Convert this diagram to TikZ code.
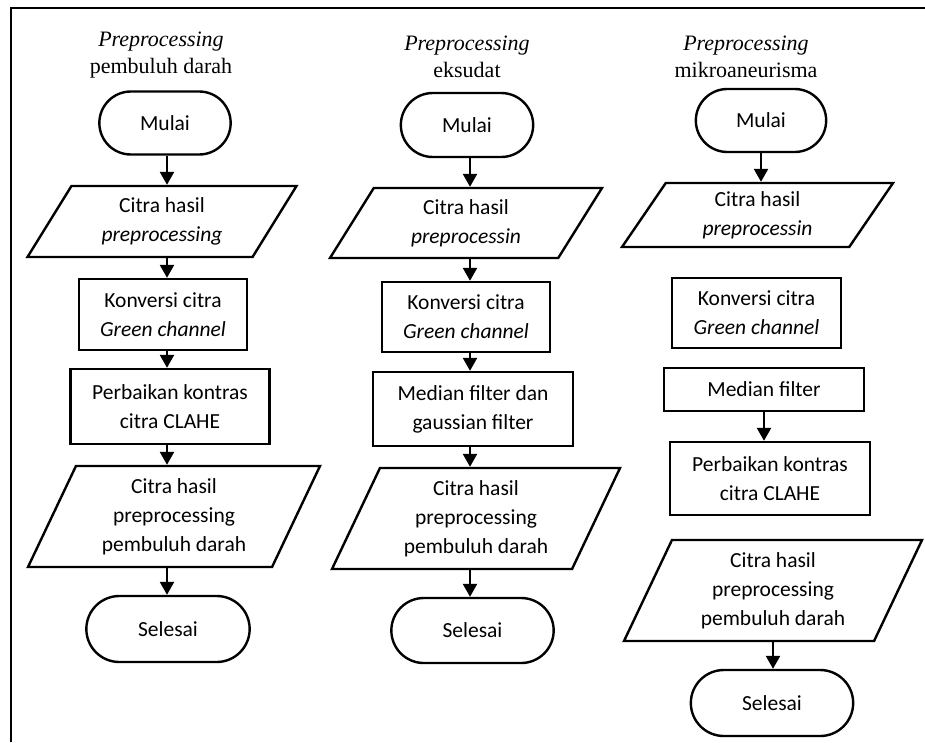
\documentclass[tikz,border=0pt]{standalone}
\usepackage{fontspec}
\setmainfont{Liberation Serif}
\newfontfamily\calibri{Carlito}
\usepackage{tikz}
\usetikzlibrary{arrows.meta}
\usetikzlibrary{positioning,shapes.geometric,shapes.misc}
\tikzset{
    terminal/.style={
        draw,
        rounded rectangle,
        line width=2.4pt,
        align=center,
        font=\calibri\fontsize{21.5}{29}\selectfont
    },
    process/.style={
        draw,
        rectangle,
        line width=2.4pt,
        align=center,
        font=\calibri\fontsize{21.5}{29}\selectfont
    },
    io/.style={
        draw,
        trapezium,
        trapezium stretches body=true,
        trapezium left angle=51,
        trapezium right angle=129,
        line width=2.4pt,
        align=center,
        inner xsep=0pt,
        font=\calibri\fontsize{21.5}{29}\selectfont
    },
    result/.style={
        io,
        trapezium left angle=60,
        trapezium right angle=120
    },
    title/.style={
        align=center,
        font=\fontsize{22}{27}\selectfont
    },
    flow/.style={
        draw,
        -{Triangle[length=13pt, width=14pt]},
        line width=2.4pt
    }
}

\begin{document}
\begin{tikzpicture}[x=1pt, y=-1pt]
    \useasboundingbox (0,0) rectangle (925,742);
    % Frame
    \draw[line width=2.4pt] (11,742) -- (11,8) -- (925,8);

    % Preprocessing pembuluh darah
    \coordinate (pd) at (167,0);
    \node[title] (pd-title) at (161,55) {\textit{Preprocessing}\\pembuluh darah};
    \node[terminal, minimum width=138pt, minimum height=63pt] (pd-start) at (165,123) {Mulai};
    \node[io, minimum width=269pt, minimum height=71pt] (pd-in) at (162,221.5) {Citra hasil\\\textit{preprocessing}};
    \node[process, minimum width=168pt, minimum height=71pt] (pd-green) at (163,314.5) {Konversi citra\\\textit{Green channel}};
    \node[process, minimum width=199pt, minimum height=75pt] (pd-clahe) at (170,406.5) {Perbaikan kontras\\citra CLAHE};
    \node[result, minimum width=292pt, minimum height=101pt] (pd-out) at (174,516.5) {Citra hasil\\preprocessing\\pembuluh darah};
    \node[terminal, minimum width=170pt, minimum height=66pt] (pd-end) at (168,629) {Selesai};

    % Preprocessing eksudat
    \coordinate (ek) at (470,0);
    \node[title] (ek-title) at (467,56.5) {\textit{Preprocessing}\\eksudat};
    \node[terminal, minimum width=139pt, minimum height=64pt] (ek-start) at (467,125) {Mulai};
    \node[io, minimum width=272pt, minimum height=70pt] (ek-in) at (466,223) {Citra hasil\\\textit{preprocessin}};
    \node[process, minimum width=168pt, minimum height=70pt] (ek-green) at (466,317) {Konversi citra\\\textit{Green channel}};
    \node[process, minimum width=200pt, minimum height=74pt] (ek-filter) at (473,409) {Median filter dan\\gaussian filter};
    \node[result, minimum width=288pt, minimum height=101pt] (ek-out) at (476,518.5) {Citra hasil\\preprocessing\\pembuluh darah};
    \node[terminal, minimum width=169pt, minimum height=65pt] (ek-end) at (472.5,630.5) {Selesai};

    % Preprocessing mikroaneurisma
    \node[title] (ma-title) at (746,56.5) {\textit{Preprocessing}\\mikroaneurisma};
    \node[terminal, minimum width=137pt, minimum height=63pt] (ma-start) at (761,120.5) {Mulai};
    \node[io, minimum width=271pt, minimum height=64pt] (ma-in) at (757.5,215) {Citra hasil\\\textit{preprocessin}};
    \node[process, minimum width=169pt, minimum height=70pt] (ma-green) at (756.5,313) {Konversi citra\\\textit{Green channel}};
    \node[process, minimum width=200pt, minimum height=43pt] (ma-median) at (764,389.5) {Median filter};
    \node[process, minimum width=200pt, minimum height=73pt] (ma-clahe) at (770,478.5) {Perbaikan kontras\\citra CLAHE};
    \node[result, minimum width=298pt, minimum height=101pt] (ma-out) at (773,590.5) {Citra hasil\\preprocessing\\pembuluh darah};
    \node[terminal, minimum width=169pt, minimum height=66pt] (ma-end) at (772,703) {Selesai};

    % Edges
    \draw[flow] (pd-start.south -| pd) -- (pd-in.north -| pd);
    \draw[flow] (pd-in.south -| pd) -- (pd-green.north -| pd);
    \draw[flow] (pd-green.south -| pd) -- (pd-clahe.north -| pd);
    \draw[flow] (pd-clahe.south -| pd) -- (pd-out.north -| pd);
    \draw[flow] (pd-out.south -| pd) -- (pd-end.north -| pd);

    \draw[flow] (ek-start.south -| ek) -- (ek-in.north -| ek);
    \draw[flow] (ek-in.south -| ek) -- (ek-green.north -| ek);
    \draw[flow] (ek-green.south -| ek) -- (ek-filter.north -| ek);
    \draw[flow] (ek-filter.south -| ek) -- (ek-out.north -| ek);
    \draw[flow] (ek-out.south -| ek) -- (ek-end.north -| ek);

    \draw[flow] (ma-start.south) -- (ma-start.south |- ma-in.north);
    \draw[flow] (ma-median.south) -- (ma-median.south |- ma-clahe.north);
    \draw[flow] (ma-out.south) -- (ma-out.south |- ma-end.north);
\end{tikzpicture}
\end{document}
